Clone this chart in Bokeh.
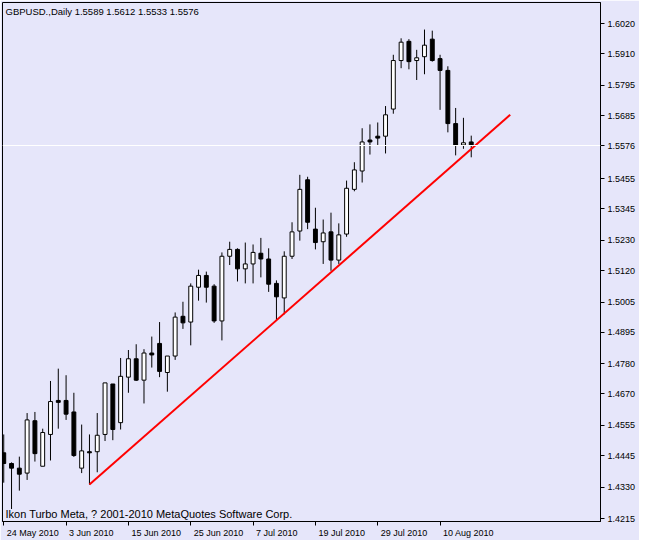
import pandas as pd
from bokeh.plotting import figure
from bokeh.models import (Range1d, FixedTicker, Span, Label, ColumnDataSource,
                          NumeralTickFormatter, LinearAxis)
from bokeh.embed import file_html
from bokeh.resources import INLINE

# ---------------- data ----------------
symbol = "GBPUSD."
timeframe = "Daily"
footer_text = "Ikon Turbo Meta, ? 2001-2010 MetaQuotes Software Corp."
dates = pd.bdate_range("2010-05-24", periods=61)

opens = [1.4455, 1.4416, 1.4399, 1.4381, 1.4572, 1.4406, 1.4522, 1.4646, 1.4646, 1.4604,
         1.4399, 1.4459, 1.4459, 1.4522, 1.4706, 1.4565, 1.4731, 1.4798, 1.4720, 1.4819,
         1.4854, 1.4748, 1.4808, 1.4953, 1.4932, 1.5059, 1.5102, 1.5063, 1.4936, 1.5172,
         1.5197, 1.5126, 1.5144, 1.5183, 1.5162, 1.5073, 1.5020, 1.5172, 1.5264, 1.5451,
         1.5271, 1.5225, 1.5261, 1.5158, 1.5253, 1.5416, 1.5483, 1.5596, 1.5610, 1.5610,
         1.5709, 1.5886, 1.5956, 1.5886, 1.5900, 1.5964, 1.5893, 1.5850, 1.5656, 1.5578,
         1.5589]
highs = [1.4522, 1.4420, 1.4441, 1.4600, 1.4604, 1.4543, 1.4717, 1.4762, 1.4738, 1.4674,
         1.4558, 1.4522, 1.4600, 1.4710, 1.4706, 1.4801, 1.4830, 1.4851, 1.4833, 1.4879,
         1.4932, 1.4808, 1.4967, 1.5006, 1.5073, 1.5123, 1.5116, 1.5070, 1.5186, 1.5225,
         1.5201, 1.5222, 1.5215, 1.5239, 1.5201, 1.5084, 1.5190, 1.5296, 1.5469, 1.5462,
         1.5349, 1.5306, 1.5331, 1.5292, 1.5448, 1.5515, 1.5639, 1.5653, 1.5660, 1.5720,
         1.5907, 1.5967, 1.5964, 1.5925, 1.5999, 1.5995, 1.5907, 1.5865, 1.5713, 1.5677,
         1.5612]
lows = [1.4346, 1.4250, 1.4317, 1.4356, 1.4423, 1.4406, 1.4427, 1.4543, 1.4575, 1.4440,
        1.4381, 1.4339, 1.4384, 1.4498, 1.4501, 1.4540, 1.4674, 1.4717, 1.4635, 1.4766,
        1.4731, 1.4678, 1.4794, 1.4907, 1.4847, 1.5010, 1.5003, 1.4929, 1.4865, 1.5140,
        1.5080, 1.5073, 1.5073, 1.5095, 1.5042, 1.4939, 1.4960, 1.5162, 1.5229, 1.5271,
        1.5197, 1.5144, 1.5119, 1.5144, 1.5243, 1.5409, 1.5441, 1.5543, 1.5578, 1.5547,
        1.5692, 1.5858, 1.5854, 1.5815, 1.5836, 1.5882, 1.5706, 1.5624, 1.5540, 1.5564,
        1.5533]
closes = [1.4416, 1.4399, 1.4377, 1.4575, 1.4452, 1.4529, 1.4642, 1.4639, 1.4596, 1.4445,
          1.4462, 1.4455, 1.4519, 1.4710, 1.4540, 1.4734, 1.4798, 1.4720, 1.4819, 1.4812,
          1.4752, 1.4808, 1.4950, 1.4929, 1.5063, 1.5102, 1.5059, 1.4936, 1.5172, 1.5197,
          1.5126, 1.5144, 1.5186, 1.5162, 1.5070, 1.5024, 1.5172, 1.5261, 1.5416, 1.5296,
          1.5222, 1.5257, 1.5158, 1.5250, 1.5420, 1.5487, 1.5589, 1.5589, 1.5603, 1.5688,
          1.5886, 1.5953, 1.5882, 1.5896, 1.5942, 1.5886, 1.5850, 1.5656, 1.5578, 1.5586,
          1.5576]

tick_dates = ["2010-05-24", "2010-06-03", "2010-06-15", "2010-06-25",
              "2010-07-07", "2010-07-19", "2010-07-29", "2010-08-10"]
price_ticks = [1.4215, 1.4330, 1.4445, 1.4555, 1.4670, 1.4780, 1.4895, 1.5005,
               1.5120, 1.5230, 1.5345, 1.5455, 1.5685, 1.5795, 1.5910, 1.6020]

# trend line anchors: (bar index, price)
trend_x = [11, 65]
trend_y = [1.4339, 1.5688]

x_start, x_end = -0.16, 76.59
y_start, y_end = 1.42044, 1.60977

# ---------------- styling ----------------
BG = "#E6E6FA"
FONT = "Liberation Sans"
W, H = 639, 540
B_LEFT, B_TOP, B_RIGHT, B_BOTTOM = 2, 2, 39, 18
AXIS_FS = 9  # px

idx = list(range(len(dates)))
up = [c >= o for o, c in zip(opens, closes)]
src = ColumnDataSource(dict(
    x=idx,
    high=highs, low=lows,
    top=[max(o, c) for o, c in zip(opens, closes)],
    bottom=[min(o, c) for o, c in zip(opens, closes)],
    fill=["white" if u else "black" for u in up],
))

p = figure(width=W, height=H, output_backend="svg", toolbar_location=None,
           x_range=Range1d(x_start, x_end), y_range=Range1d(y_start, y_end),
           y_axis_location=None, x_axis_location=None,
           background_fill_color=BG, border_fill_color=BG,
           min_border_left=B_LEFT, min_border_top=B_TOP, min_border_right=B_RIGHT,
           min_border_bottom=B_BOTTOM)
p.grid.visible = False
p.outline_line_color = "black"
p.outline_line_width = 1

# wicks and bodies
p.segment(x0="x", y0="high", x1="x", y1="low", source=src,
          line_color="black", line_width=1)
p.vbar(x="x", top="top", bottom="bottom", width=0.5, source=src,
       fill_color="fill", line_color="black", line_width=1)

# current price line
last_price = closes[-1]
p.add_layout(Span(location=last_price, dimension="width",
                  line_color="white", line_width=1))

# trend line
p.line(trend_x, trend_y, line_color="#FF0000", line_width=2)

# right price axis (includes the current price on the scale)
ya = LinearAxis(ticker=FixedTicker(ticks=sorted(price_ticks + [last_price])),
                formatter=NumeralTickFormatter(format="0.0000"),
                axis_line_color="black", major_tick_line_color="black",
                major_tick_out=4, major_tick_in=0,
                minor_tick_out=0, minor_tick_in=0,
                major_label_standoff=3,
                major_label_text_font=FONT,
                major_label_text_font_size=f"{AXIS_FS}px",
                major_label_text_color="black")
p.add_layout(ya, "right")

# bottom time axis: tick marks at the bars, labels set to the right of each tick
date_strs = list(dates.strftime("%Y-%m-%d"))
tick_idx = [date_strs.index(d) for d in tick_dates]
tick_text = [f"{dates[i].day} {dates[i].strftime('%b %Y')}" for i in tick_idx]

xa_ticks = LinearAxis(ticker=FixedTicker(ticks=tick_idx),
                      major_label_overrides={i: "" for i in tick_idx},
                      major_label_text_font_size="0px", major_label_standoff=0,
                      axis_line_color="black", major_tick_line_color="black",
                      major_tick_out=4, major_tick_in=0,
                      minor_tick_out=0, minor_tick_in=0)
p.add_layout(xa_ticks, "below")

# Arial/Liberation Sans advance widths (em/1000) to centre each label right of its tick
ADV = {" ": 278, "M": 833, "a": 556, "y": 500, "J": 500, "u": 556, "n": 556,
       "l": 222, "A": 667, "g": 556}
frame_w = W - B_LEFT - B_RIGHT
px_per_bar = frame_w / (x_end - x_start)
label_pos = []
for t, i in zip(tick_text, tick_idx):
    wpx = sum(ADV.get(ch, 556) for ch in t) / 1000 * AXIS_FS
    label_pos.append(round(i + (wpx / 2 + 3) / px_per_bar, 4))

xa_labels = LinearAxis(ticker=FixedTicker(ticks=label_pos),
                       major_label_overrides={pos: t for pos, t in zip(label_pos, tick_text)},
                       axis_line_color=None, major_tick_line_color=None,
                       major_tick_out=0, major_tick_in=0,
                       minor_tick_out=0, minor_tick_in=0,
                       major_label_standoff=2,
                       major_label_text_font=FONT,
                       major_label_text_font_size=f"{AXIS_FS}px",
                       major_label_text_color="black")
p.add_layout(xa_labels, "below")

# header and footer
hdr = f"{symbol},{timeframe}  {opens[-1]:.4f} {highs[-1]:.4f} {lows[-1]:.4f} {closes[-1]:.4f}"
p.add_layout(Label(x=x_start, y=y_end, x_offset=3, y_offset=-9, text=hdr,
                   text_font=FONT, text_font_size="9.5px", text_color="black",
                   text_align="left", text_baseline="middle"))
p.add_layout(Label(x=x_start, y=y_start, x_offset=3, y_offset=8, text=footer_text,
                   text_font=FONT, text_font_size="11px", text_color="black",
                   text_align="left", text_baseline="middle"))

open("out.html", "w").write(file_html(p, INLINE))
